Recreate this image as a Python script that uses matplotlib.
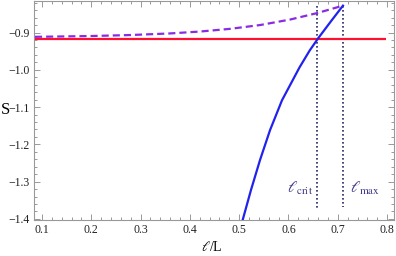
import matplotlib
matplotlib.use("Agg")
import matplotlib.pyplot as plt
from matplotlib.ticker import MultipleLocator, FuncFormatter

plt.rcParams['font.family'] = ['Liberation Serif', 'DejaVu Serif']
plt.rcParams['mathtext.fontset'] = 'stix'

# data
solid_l = [0.5071, 0.5239, 0.5422, 0.5625, 0.5868, 0.6223, 0.6430, 0.6598, 0.6872, 0.7105]
solid_s = [-1.4027, -1.3225, -1.2422, -1.1620, -1.0818, -0.9936, -0.9481, -0.9160, -0.8679, -0.8278]

dash_l = [0.0858, 0.1974, 0.2785, 0.3596, 0.4205, 0.4813, 0.5422, 0.6030, 0.6578, 0.7105]
dash_s = [-0.9115, -0.9094, -0.9067, -0.9024, -0.8973, -0.8901, -0.8799, -0.8652, -0.8479, -0.8278]

red_l = [0.086, 0.798]
red_s = [-0.916, -0.916]

l_crit = 0.658
l_max = 0.711
vline_top = -0.828
crit_bottom = -1.373
max_bottom = -1.368

xticks = [0.1, 0.2, 0.3, 0.4, 0.5, 0.6, 0.7, 0.8]
yticks = [-0.9, -1.0, -1.1, -1.2, -1.3, -1.4]

fig = plt.figure(figsize=(3.96, 2.56), dpi=100)
ax = fig.add_axes([34/396, 1-220/256, 360/396, 219.5/256])

ax.plot(red_l, red_s, color='#ff1030', lw=1.6, solid_capstyle='butt', zorder=2)
ax.plot(dash_l, dash_s, color='#8a2be2', lw=1.6, dashes=(3.2, 1.8), zorder=3)
ax.plot(solid_l, solid_s, color='#2222ee', lw=1.6, zorder=4)
ax.plot([l_crit, l_crit], [vline_top, crit_bottom], color='#262660', lw=1.2,
        linestyle=(0, (1, 1.4)), zorder=1)
ax.plot([l_max, l_max], [vline_top, max_bottom], color='#262660', lw=1.2,
        linestyle=(0, (1, 1.4)), zorder=1)

ax.text(0.623, -1.317, r'$\ell_{\rm crit}$', color='#3f3a8a', fontsize=11.5,
        ha='center', va='center')
ax.text(0.755, -1.317, r'$\ell_{\rm max}$', color='#3f3a8a', fontsize=11.5,
        ha='center', va='center')

ax.set_xlim(0.0838, 0.814)
ax.set_ylim(-1.403, -0.814)
ax.set_xticks(xticks)
ax.set_yticks(yticks)
ax.xaxis.set_minor_locator(MultipleLocator(0.02))
ax.yaxis.set_minor_locator(MultipleLocator(0.02))
fmt = FuncFormatter(lambda v, p: ('%.1f' % v).replace('-', '\u2212'))
ax.xaxis.set_major_formatter(fmt)
ax.yaxis.set_major_formatter(fmt)

ax.tick_params(which='both', direction='in', top=True, right=True,
               color='#999999', labelsize=8.5, labelcolor='#222222', width=0.7)
ax.tick_params(which='major', length=4, pad=3)
ax.tick_params(which='minor', length=2)
for sp in ax.spines.values():
    sp.set_color('#999999')
    sp.set_linewidth(0.8)

fig.text(212/396, 1-247/256, r'$\ell$/L', fontsize=10, ha='center', va='center')
fig.text(5/396, 1-110/256, 'S', fontsize=12, ha='center', va='center')

fig.savefig('out.png', dpi=100)
